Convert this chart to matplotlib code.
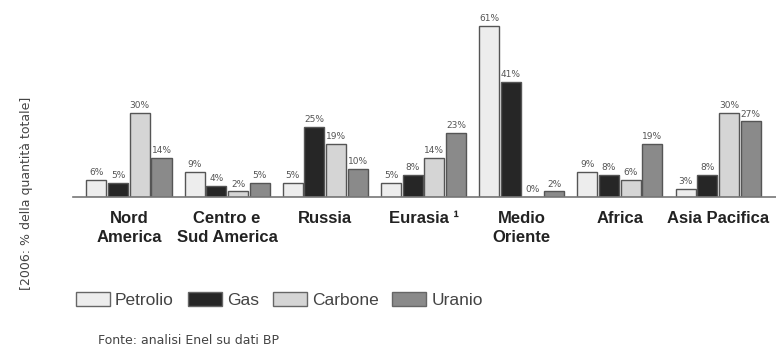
import numpy as np
import matplotlib
matplotlib.use("Agg")
import matplotlib.pyplot as plt
from matplotlib.patches import Patch

plt.rcParams["font.family"] = ["Liberation Sans", "DejaVu Sans"]

# Quote per area geografica (2006, % della quantita' totale)
regions = ["Nord\nAmerica", "Centro e\nSud America", "Russia", "Eurasia \u00b9",
           "Medio\nOriente", "Africa", "Asia Pacifica"]
petrolio = [6, 9, 5, 5, 61, 9, 3]
gas = [5, 4, 25, 8, 41, 8, 8]
carbone = [30, 2, 19, 14, 0, 6, 30]
uranio = [14, 5, 10, 23, 2, 19, 27]

series_names = ["Petrolio", "Gas", "Carbone", "Uranio"]
series_colors = ["#ededed", "#262626", "#d5d5d5", "#8a8a8a"]
series_values = [petrolio, gas, carbone, uranio]

fig = plt.figure(figsize=(7.76, 3.5), dpi=100)
ax = fig.add_axes([73 / 776, 1 - 197 / 350, 703 / 776, 182 / 350])

x = np.arange(len(regions))
step = 0.221
width = 0.204

for j, (name, color, vals) in enumerate(zip(series_names, series_colors, series_values)):
    pos = x + (j - 1.5) * step
    ax.bar(pos, vals, width=width, color=color, edgecolor="#555555", linewidth=1.0)
    for px, v in zip(pos, vals):
        ax.text(px, v + 1.0, f"{v}%", ha="center", va="bottom",
                fontsize=6.5, color="#555555", family="DejaVu Sans")

ax.set_xlim(-0.57, 6.59)
ax.set_ylim(0, 65)

for s in ["top", "right", "left"]:
    ax.spines[s].set_visible(False)
ax.spines["bottom"].set_color("#777777")
ax.spines["bottom"].set_linewidth(1.2)
ax.set_yticks([])
ax.set_xticks(x)
ax.set_xticklabels(regions, fontsize=12, fontweight="bold", color="#222222",
                   linespacing=1.35)
ax.tick_params(axis="x", length=0, pad=10)

fig.text(27 / 776, 1 - 193 / 350, "[2006: % della quantit\u00e0 totale]",
         rotation=90, ha="center", va="center", fontsize=9, color="#444444",
         family="DejaVu Sans")

handles = [Patch(facecolor=c, edgecolor="#666666", label=n)
           for n, c in zip(series_names, series_colors)]
fig.legend(handles=handles, loc="center left", ncol=4, frameon=False,
           bbox_to_anchor=(76 / 776, 1 - 300 / 350), borderaxespad=0, borderpad=0,
           fontsize=12.5, handlelength=1.95, handleheight=0.92, handletextpad=0.3,
           columnspacing=0.8, labelcolor="#444444")

fig.text(98 / 776, 1 - 340 / 350, "Fonte: analisi Enel su dati BP",
         ha="left", va="center", fontsize=9, color="#444444",
         family="DejaVu Sans")

fig.savefig("out.png", dpi=100)
